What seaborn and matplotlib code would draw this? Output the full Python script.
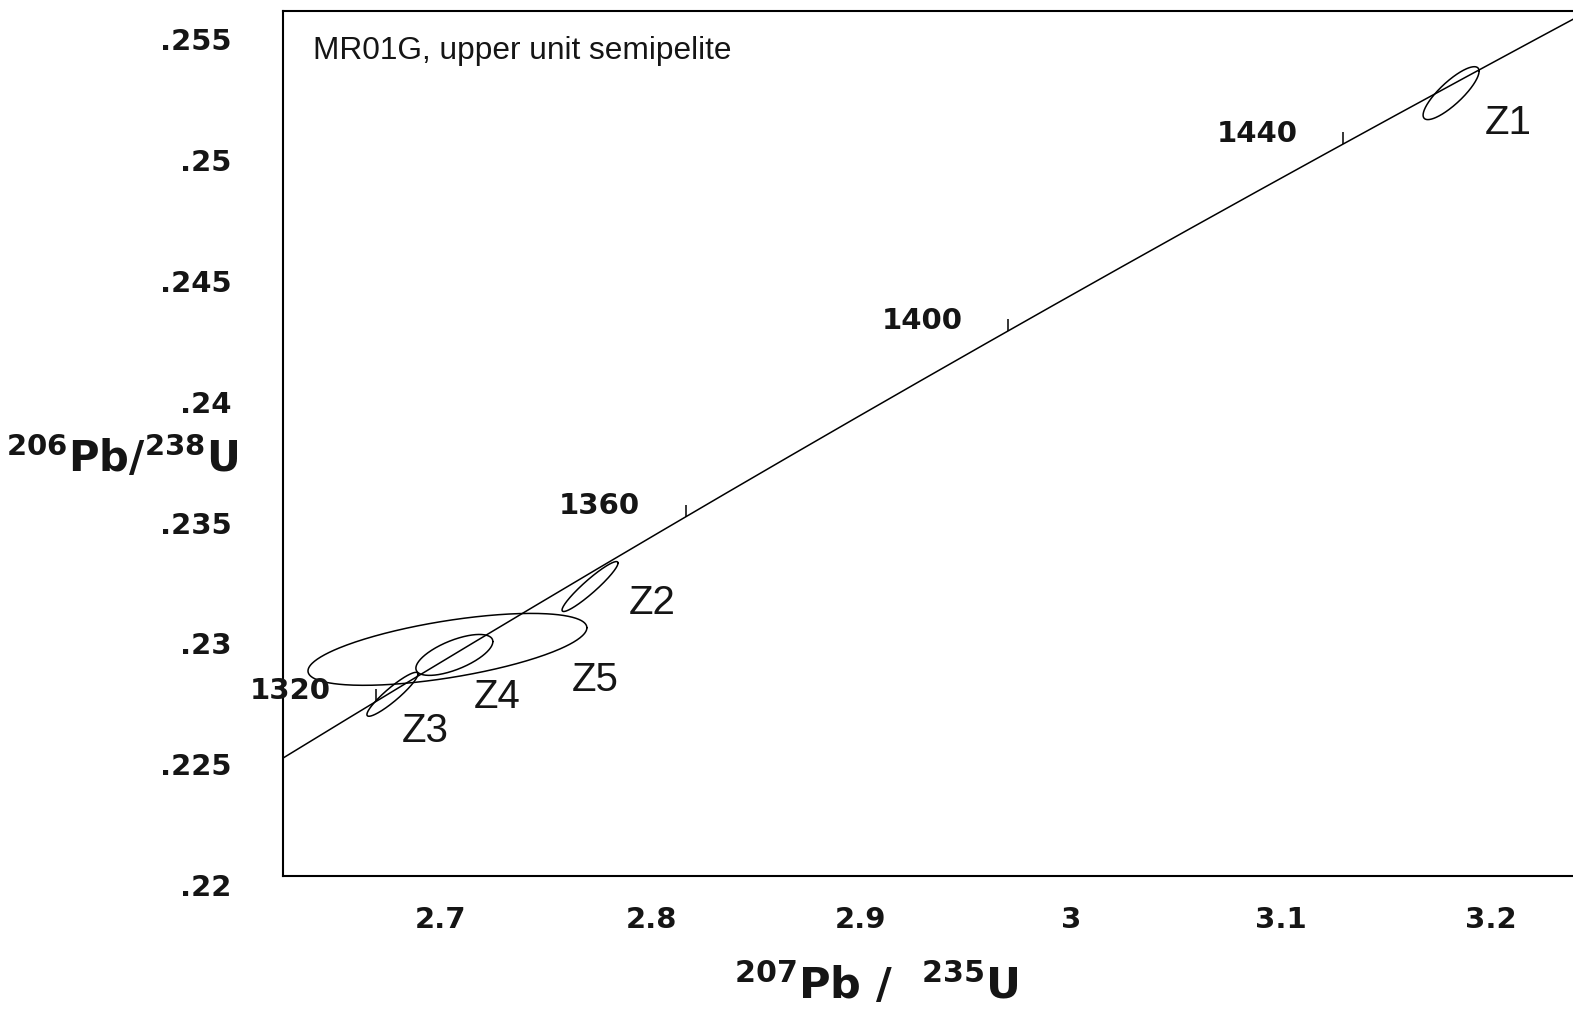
import numpy as np
import pandas as pd
import matplotlib
matplotlib.use("Agg")
import matplotlib.pyplot as plt
from matplotlib.transforms import ScaledTranslation
import seaborn as sns

# ---------------- data ----------------
# decay constants (per year) defining the concordia curve
LAMBDA_238 = 1.55125e-10
LAMBDA_235 = 9.8485e-10
concordia_age_range_ma = [1300, 1480]          # span of the drawn concordia
age_ticks_ma = [1320, 1360, 1400, 1440]         # labelled ages on concordia
age_tick_labels = ["1320", "1360", "1400", "1440"]

grains = ["Z1", "Z2", "Z3", "Z4", "Z5"]
center_x = [3.1810, 2.7710, 2.6769, 2.7064, 2.7031]      # 207Pb/235U
center_y = [0.25240, 0.23198, 0.22752, 0.22915, 0.22938]  # 206Pb/238U
half_x = [0.01333, 0.01333, 0.01214, 0.01833, 0.06640]
half_y = [0.001095, 0.001033, 0.000909, 0.000847, 0.001488]
rho = [0.83, 0.94, 0.92, 0.65, 0.60]
label_x = [3.2081, 2.8005, 2.6924, 2.7267, 2.7733]
label_y = [0.25120, 0.23136, 0.22603, 0.22744, 0.22814]

x_ticks = [2.7, 2.8, 2.9, 3.0, 3.1, 3.2]
x_tick_labels = ["2.7", "2.8", "2.9", "3", "3.1", "3.2"]
y_ticks = [0.22, 0.225, 0.23, 0.235, 0.24, 0.245, 0.25, 0.255]
y_tick_labels = [".22", ".225", ".23", ".235", ".24", ".245", ".25", ".255"]

title_text = "MR01G, upper unit semipelite"

# ---------------- figure ----------------
sns.set_theme(style="white")
plt.rcParams["font.family"] = ["DejaVu Sans"]
plt.rcParams["mathtext.fontset"] = "custom"
plt.rcParams["mathtext.rm"] = "DejaVu Sans"
plt.rcParams["mathtext.bf"] = "DejaVu Sans:bold"

INK = "#151515"
W, H = 1573, 1012
fig = plt.figure(figsize=(W / 100, H / 100), dpi=100)
fig.patch.set_facecolor("white")
ax = fig.add_axes([283 / W, 135 / H, (1617 - 283) / W, 865 / H])
ax.set_facecolor("white")
ax.set_xlim(2.6248, 3.26)
ax.set_ylim(0.22, 0.2558)

# concordia curve
t = np.linspace(concordia_age_range_ma[0], concordia_age_range_ma[1], 400) * 1e6
conc = pd.DataFrame({"x": np.exp(LAMBDA_235 * t) - 1, "y": np.exp(LAMBDA_238 * t) - 1})
sns.lineplot(data=conc, x="x", y="y", sort=False, estimator=None, color="black",
             linewidth=1.1, ax=ax)

# age ticks on concordia
ta = np.array(age_ticks_ma) * 1e6
ax_pts = np.exp(LAMBDA_235 * ta) - 1
ay_pts = np.exp(LAMBDA_238 * ta) - 1
ax.vlines(ax_pts, ay_pts, ay_pts + 0.0005, color="black", linewidth=1.1)
for xa, ya, lab in zip(ax_pts, ay_pts, age_tick_labels):
    ax.annotate(lab, (xa, ya), xytext=(-33, 8), textcoords="offset points",
                ha="right", va="center", fontsize=21, fontweight="bold", color=INK)

# error ellipses
theta = np.linspace(0, 2 * np.pi, 300)
rows = []
for g, cx, cy, hx, hy, r in zip(grains, center_x, center_y, half_x, half_y, rho):
    ex = cx + hx * np.cos(theta)
    ey = cy + hy * (r * np.cos(theta) + np.sqrt(1 - r * r) * np.sin(theta))
    rows.append(pd.DataFrame({"x": ex, "y": ey, "grain": g}))
ell = pd.concat(rows, ignore_index=True)
for g in grains:
    sub = ell[ell["grain"] == g]
    sns.lineplot(data=sub, x="x", y="y", sort=False, estimator=None, color="black",
                 linewidth=1.1, ax=ax)
for g, lx, ly in zip(grains, label_x, label_y):
    ax.text(lx, ly, g, ha="center", va="center", fontsize=29, color=INK,
            family=["Liberation Sans Narrow", "Liberation Sans"])

# title inside the plot
ax.text(0.0225, 0.955, title_text, transform=ax.transAxes,
        ha="left", va="center", fontsize=22.8, color=INK,
        family=["Liberation Sans"])

# axes styling
for side in ["left", "bottom", "top"]:
    ax.spines[side].set_visible(True)
    ax.spines[side].set_color("black")
    ax.spines[side].set_linewidth(1.5)
ax.spines["right"].set_visible(False)

ax.set_xticks(x_ticks, x_tick_labels)
ax.set_yticks(y_ticks, y_tick_labels)
ax.tick_params(axis="both", direction="in", length=7, width=1.1, colors="black",
               labelsize=21, labelcolor=INK)
ax.tick_params(axis="y", pad=37)
ax.tick_params(axis="x", pad=21)
for lab in ax.get_xticklabels() + ax.get_yticklabels():
    lab.set_fontweight("bold")
ax.set_xlabel("")
ax.set_ylabel("")
shift = ScaledTranslation(0, -8 / 100, fig.dpi_scale_trans)
for lab in ax.get_yticklabels():
    lab.set_transform(lab.get_transform() + shift)

# axis titles
fig.text(876 / W, 1 - 985 / H, r"$^{\mathbf{207}}$Pb /  $^{\mathbf{235}}$U", ha="center",
         va="center", fontsize=31, fontweight="bold", color=INK)
fig.text(122 / W, 1 - 458 / H, r"$^{\mathbf{206}}$Pb/$^{\mathbf{238}}$U", ha="center",
         va="center", fontsize=30, fontweight="bold", color=INK)

fig.savefig("out.png", dpi=100, facecolor="white")
